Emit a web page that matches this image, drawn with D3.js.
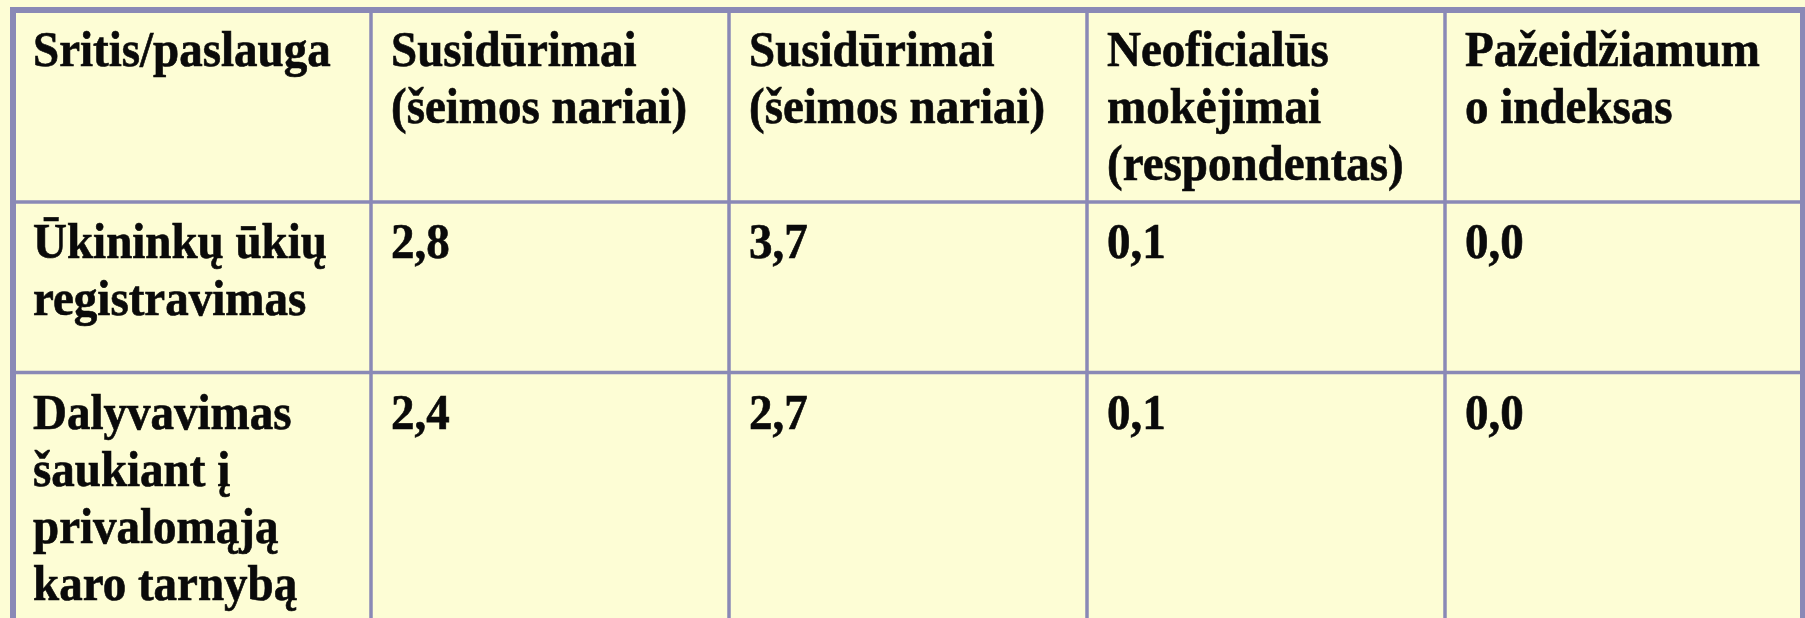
<!DOCTYPE html>
<html>
<head>
<meta charset="utf-8">
<script src="https://cdn.jsdelivr.net/npm/d3@7"></script>
<style>
  body { margin: 0; background: #fdfdd5; }
  svg { display: block; }
</style>
</head>
<body>
<div id="chart"></div>
<script>
// table content
var headerLines = [
  ["Sritis/paslauga"],
  ["Susidūrimai", "(šeimos nariai)"],
  ["Susidūrimai", "(šeimos nariai)"],
  ["Neoficialūs", "mokėjimai", "(respondentas)"],
  ["Pažeidžiamum", "o indeksas"]
];
var areaLines = [
  ["Ūkininkų ūkių", "registravimas"],
  ["Dalyvavimas", "šaukiant į", "privalomąją", "karo tarnybą"]
];
var encountersA = [2.8, 2.4];
var encountersB = [3.7, 2.7];
var informalPayments = [0.1, 0.1];
var vulnerabilityIndex = [0.0, 0.0];

function init() {
  var width = 1805, height = 618;
  var lineColor = "#8a89b6";

  var fmt = d3.formatLocale({decimal: ",", thousands: " ", grouping: [3], currency: ["", ""]}).format(".1f");

  // build rows from the arrays
  var rows = [{key: "header", cells: headerLines}];
  areaLines.forEach(function(lines, i) {
    rows.push({key: "r" + i, cells: [
      lines,
      [fmt(encountersA[i])],
      [fmt(encountersB[i])],
      [fmt(informalPayments[i])],
      [fmt(vulnerabilityIndex[i])]
    ]});
  });

  var svg = d3.select("#chart")
    .append("svg")
    .attr("width", width)
    .attr("height", height);

  // columns
  var x = d3.scaleBand()
    .domain(d3.range(headerLines.length))
    .range([13, 1803]);

  // row tops
  var y = d3.scaleOrdinal()
    .domain(rows.map(function(d) { return d.key; }))
    .range([10, 202, 372.5]);

  svg.append("rect")
    .attr("width", width)
    .attr("height", height)
    .attr("fill", "#fdfdd5");

  // inner vertical lines
  svg.append("g").selectAll("line")
    .data(d3.range(1, headerLines.length))
    .enter().append("line")
    .attr("x1", function(d) { return x(d); })
    .attr("x2", function(d) { return x(d); })
    .attr("y1", 10)
    .attr("y2", height + 20)
    .attr("stroke", lineColor)
    .attr("stroke-width", 3.5);

  // inner horizontal lines
  svg.append("g").selectAll("line")
    .data(rows.slice(1))
    .enter().append("line")
    .attr("x1", 13)
    .attr("x2", 1803)
    .attr("y1", function(d) { return y(d.key); })
    .attr("y2", function(d) { return y(d.key); })
    .attr("stroke", lineColor)
    .attr("stroke-width", 3.5);

  // outer frame (bottom is cut off)
  svg.append("rect")
    .attr("x", 13)
    .attr("y", 10)
    .attr("width", 1790)
    .attr("height", 700)
    .attr("fill", "none")
    .attr("stroke", lineColor)
    .attr("stroke-width", 6);

  // cell texts
  var rowG = svg.append("g").selectAll("g")
    .data(rows)
    .enter().append("g");

  rowG.each(function(row) {
    var g = d3.select(this);
    row.cells.forEach(function(lines, c) {
      g.selectAll(null)
        .data(lines)
        .enter().append("text")
        .attr("transform", function(d, k) {
          return "translate(" + (x(c) + 20) + "," + (y(row.key) + 56 + k * 57) + ") scale(1,1.06)";
        })
        .style("font-family", "'Liberation Serif', 'Times New Roman', serif")
        .style("font-weight", "bold")
        .style("font-size", "47px")
        .style("fill", "#0a0a0a")
        .style("stroke", "#0a0a0a")
        .style("stroke-width", "0.6px")
        .text(function(d) { return d; });
    });
  });
}
window.onload = init;
</script>
</body>
</html>
